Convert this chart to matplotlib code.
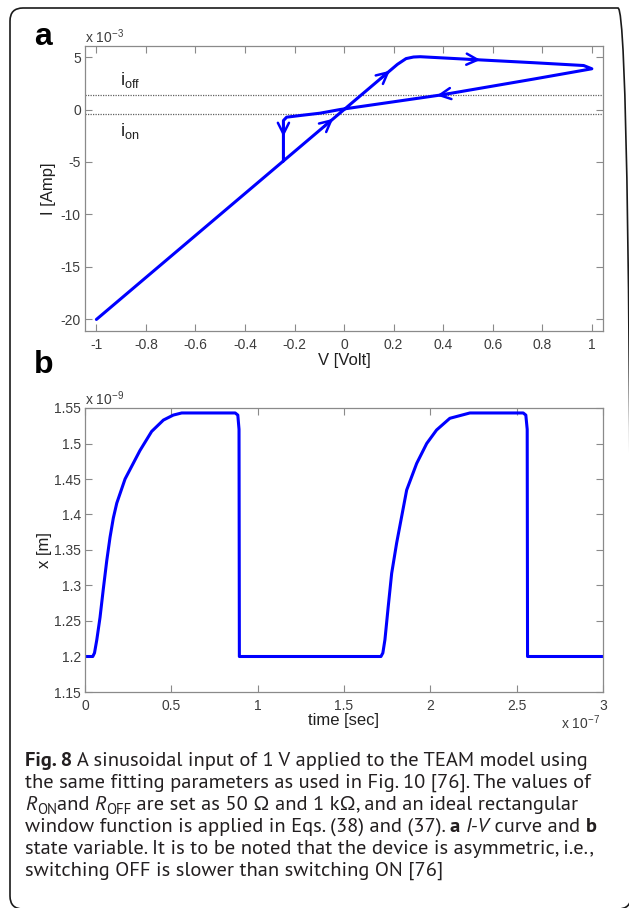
import numpy as np
import matplotlib
matplotlib.use("Agg")
import matplotlib.pyplot as plt
from matplotlib.patches import FancyBboxPatch
from matplotlib.transforms import IdentityTransform

W, H, DPI = 629, 908, 100

# ---- panel a: I-V loop (V in volt, I in units of 1e-3 A) ----
iv_volt = [-1.0, -0.245, 0.0, 0.215, 0.25, 0.28, 0.307, 0.529, 0.764, 0.967,
           1.0, 0.765, 0.395, -0.016, -0.097, -0.177, -0.232, -0.245, -0.245]
iv_milliamp = [-20.0, -4.9, 0.0, 4.3, 4.85, 5.0, 5.03, 4.75, 4.46, 4.19,
               3.88, 2.9, 1.4, 0.0, -0.35, -0.57, -0.73, -1.05, -4.9]
# direction arrows: (segment index, fraction along that segment)
iv_arrows = [(1, 0.82), (2, 0.86), (7, 0.09), (12, 0.05), (17, 0.4)]
i_off_level = 1.4
i_on_level = -0.4

a_xticks = [-1, -0.8, -0.6, -0.4, -0.2, 0, 0.2, 0.4, 0.6, 0.8, 1]
a_yticks = [-20, -15, -10, -5, 0, 5]

# ---- panel b: state variable (time in 1e-7 s, x in 1e-9 m) ----
t_e7 = [0.0, 0.045, 0.055, 0.068, 0.087, 0.106, 0.126, 0.145, 0.164, 0.184,
        0.232, 0.318, 0.386, 0.454, 0.511, 0.56, 0.87, 0.885, 0.892, 0.894,
        1.714, 1.725, 1.737, 1.756, 1.776, 1.805, 1.863, 1.921, 1.979, 2.036,
        2.113, 2.229, 2.538, 2.553, 2.561, 2.563, 3.0]
x_e9 = [1.2, 1.2, 1.205, 1.223, 1.255, 1.295, 1.335, 1.368, 1.395, 1.416,
        1.45, 1.49, 1.517, 1.533, 1.54, 1.543, 1.543, 1.54, 1.52, 1.2,
        1.2, 1.205, 1.2235, 1.27, 1.317, 1.36, 1.4345, 1.472, 1.5, 1.519,
        1.5355, 1.543, 1.543, 1.54, 1.52, 1.2, 1.2]

b_xticks = [0, 0.5, 1, 1.5, 2, 2.5, 3]
b_yticks = [1.15, 1.2, 1.25, 1.3, 1.35, 1.4, 1.45, 1.5, 1.55]

caption_lines = [
    [("Fig. 8", "b"), (" A sinusoidal input of 1 V applied to the TEAM model using", "n")],
    [("the same fitting parameters as used in Fig. 10 [76]. The values of", "n")],
    [("R", "i"), ("ON", "sub"), ("and ", "n"), ("R", "i"), ("OFF", "sub"),
     (" are set as 50 \u03a9 and 1 k\u03a9, and an ideal rectangular", "n")],
    [("window function is applied in Eqs. (38) and (37). ", "n"), ("a", "b"),
     (" ", "n"), ("I-V", "i"), (" curve and ", "n"), ("b", "b")],
    [("state variable. It is to be noted that the device is asymmetric, i.e.,", "n")],
    [("switching OFF is slower than switching ON [76]", "n")],
]

plt.rcParams["font.family"] = ["Liberation Sans", "DejaVu Sans"]
plt.rcParams["axes.unicode_minus"] = False
plt.rcParams["mathtext.fontset"] = "custom"
plt.rcParams["mathtext.rm"] = "Liberation Sans"

BLUE = "#0000ff"
AXC = "#8a8a8a"
TICKC = "#3c3c3c"
LABC = "#202020"
CAP_FONT = ["PT Sans", "Open Sans", "DejaVu Sans"]


def fx(x):
    return x / W


def fy(y):
    return 1 - y / H


def fmt(v):
    return f"{v:g}"


def style_axes(ax, xticks, yticks):
    for s in ax.spines.values():
        s.set_color(AXC)
        s.set_linewidth(0.9)
    ax.set_xticks(xticks)
    ax.set_yticks(yticks)
    ax.set_xticklabels([fmt(v) for v in xticks])
    ax.set_yticklabels([fmt(v) for v in yticks])
    ax.tick_params(direction="in", length=5, width=0.8, color=AXC,
                   top=True, right=True, labelsize=10, labelcolor=TICKC)
    ax.tick_params(axis="x", pad=5)
    ax.tick_params(axis="y", pad=3)


fig = plt.figure(figsize=(W / DPI, H / DPI), dpi=DPI)
fig.patch.set_facecolor("white")

# ---------------- panel a ----------------
ax1 = fig.add_axes([fx(85), fy(331), 518 / W, 285 / H])
ax1.set_xlim(-1.046, 1.045)
ax1.set_ylim(-21.1, 6.05)
style_axes(ax1, a_xticks, a_yticks)

ax1.axhline(i_off_level, color="#606060", lw=0.9, ls=(0, (1, 1)), zorder=1)
ax1.axhline(i_on_level, color="#606060", lw=0.9, ls=(0, (1, 1)), zorder=1)
ax1.plot(iv_volt, iv_milliamp, color=BLUE, lw=2.2, zorder=3,
         solid_capstyle="round", solid_joinstyle="round")

pts = ax1.transData.transform(np.column_stack([iv_volt, iv_milliamp]))
for seg, frac in iv_arrows:
    v = iv_volt[seg] + frac * (iv_volt[seg + 1] - iv_volt[seg])
    i = iv_milliamp[seg] + frac * (iv_milliamp[seg + 1] - iv_milliamp[seg])
    d = pts[seg + 1] - pts[seg]
    d = d / np.hypot(*d)
    ax1.annotate("", xy=(v, i), xytext=(-12 * d[0], -12 * d[1]),
                 textcoords="offset pixels",
                 arrowprops=dict(arrowstyle="->,head_length=0.8,head_width=0.4",
                                 color=BLUE, lw=1.8, shrinkA=0, shrinkB=0),
                 zorder=4)

ax1.text(-0.905, i_off_level + 0.45, r"$\mathregular{i_{off}}$", fontsize=13,
         color=LABC, ha="left", va="bottom")
ax1.text(-0.905, i_on_level - 0.7, r"$\mathregular{i_{on}}$", fontsize=13,
         color=LABC, ha="left", va="top")

ax1.set_xlabel("V [Volt]", fontsize=12, color=LABC, labelpad=1)
ax1.set_ylabel("I [Amp]", fontsize=12, color=LABC, labelpad=3)
fig.text(fx(85), fy(43), r"x 10$^{\mathregular{-3}}$", fontsize=10,
         color=TICKC, ha="left", va="baseline")

# ---------------- panel b ----------------
ax2 = fig.add_axes([fx(85), fy(692), 518 / W, 284 / H])
ax2.set_xlim(0, 3)
ax2.set_ylim(1.15, 1.55)
style_axes(ax2, b_xticks, b_yticks)
ax2.plot(t_e7, x_e9, color=BLUE, lw=2.2, solid_joinstyle="round")
ax2.set_xlabel("time [sec]", fontsize=12, color=LABC, labelpad=0)
ax2.set_ylabel("x [m]", fontsize=12, color=LABC, labelpad=1)
fig.text(fx(85), fy(405), r"x 10$^{\mathregular{-9}}$", fontsize=10,
         color=TICKC, ha="left", va="baseline")
fig.text(fx(600), fy(729), r"x 10$^{\mathregular{-7}}$", fontsize=10,
         color=TICKC, ha="right", va="baseline")

# panel letters
fig.text(fx(34), fy(45), "a", fontsize=23, fontweight="bold", ha="left",
         va="baseline")
fig.text(fx(34), fy(373), "b", fontsize=23, fontweight="bold", ha="left",
         va="baseline")

# ---------------- caption ----------------
renderer = fig.canvas.get_renderer()


def text_width(s, **kw):
    t1 = fig.text(0, 0, "|" + s + "|", **kw)
    t2 = fig.text(0, 0, "||", **kw)
    w = t1.get_window_extent(renderer).width - t2.get_window_extent(renderer).width
    t1.remove()
    t2.remove()
    return w


def run_kw(style, size):
    kw = dict(fontsize=size, family=CAP_FONT, color="#231f20")
    if style == "b":
        kw["fontweight"] = "bold"
    elif style == "i":
        kw["fontstyle"] = "italic"
    elif style == "sub":
        kw["fontsize"] = size * 0.72
    return kw


# fit font size so the first caption line spans its width in the reference
line1 = caption_lines[0]
w10 = sum(text_width(s, **run_kw(st, 10)) for s, st in line1)
cap_size = 10 * 563 / w10

for k, runs in enumerate(caption_lines):
    x = 25
    y = 766 + 22 * k
    for s, st in runs:
        kw = run_kw(st, cap_size)
        dy = 3.5 if st == "sub" else 0
        fig.text(fx(x), fy(y + dy), s, ha="left", va="baseline", **kw)
        x += text_width(s, **kw)

# outer rounded frame (right and bottom edges run just off the canvas)
frame = FancyBboxPatch((10, H - 909), 621, 901,
                       boxstyle="round,pad=0,rounding_size=13",
                       transform=IdentityTransform(), fill=False,
                       edgecolor="#1a1a1a", lw=1.2, clip_on=False)
fig.add_artist(frame)

fig.savefig("out.png", dpi=DPI, facecolor="white")
